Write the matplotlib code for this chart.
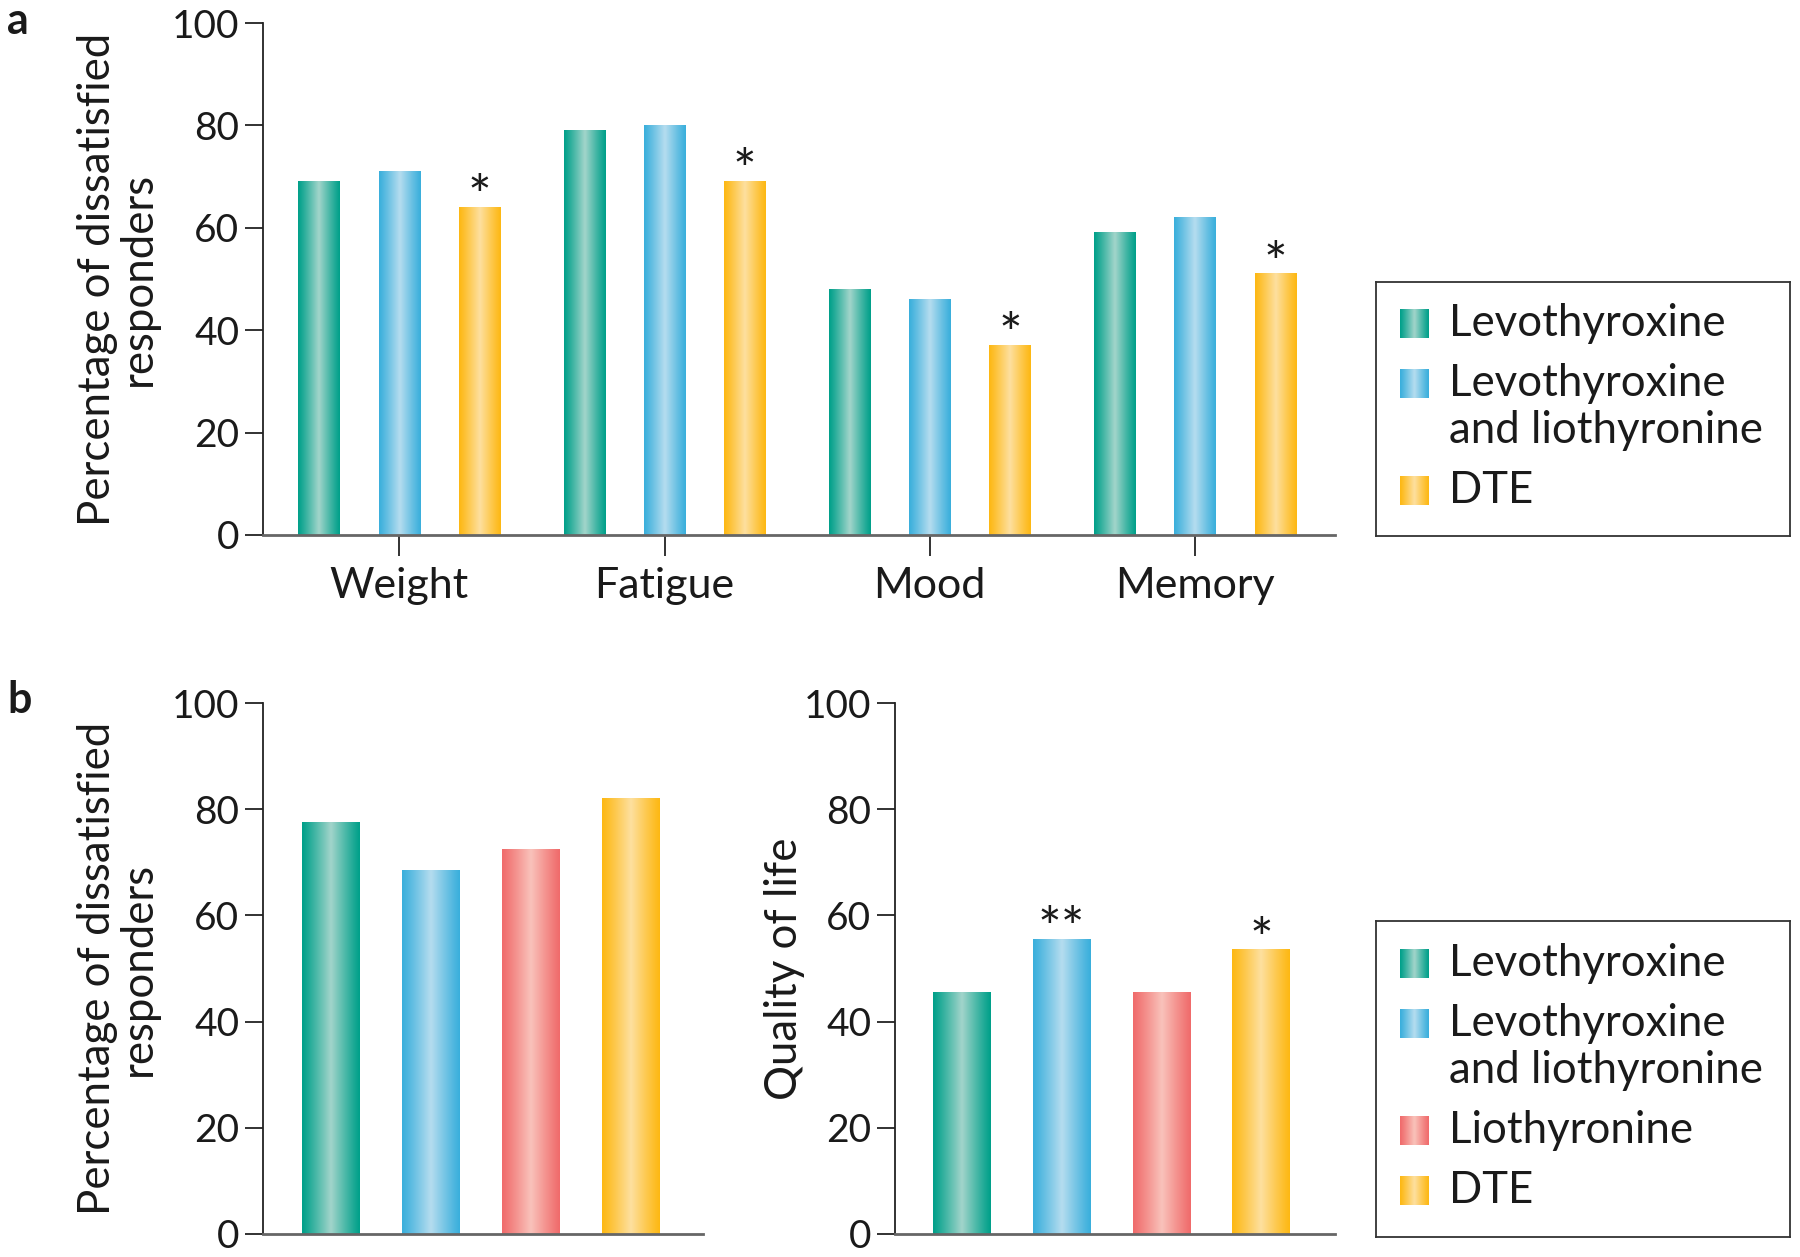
import numpy as np
import matplotlib
matplotlib.use("Agg")
import matplotlib.pyplot as plt
from matplotlib.colors import to_rgb

plt.rcParams['font.family'] = ['Lato', 'DejaVu Sans']

# data
cats_a = ['Weight', 'Fatigue', 'Mood', 'Memory']
levo_a = [69, 79, 48, 59]
combo_a = [71, 80, 46, 62]
dte_a = [64, 69, 37, 51]
stars_a = ['*', '*', '*', '*']  # on DTE bars

dissat_b = [77.5, 68.5, 72.5, 82]
qol_b = [45.5, 55.5, 45.5, 53.5]
qol_stars = ['', '**', '', '*']

names_a = ['Levothyroxine', 'Levothyroxine\nand liothyronine', 'DTE']
names_b = ['Levothyroxine', 'Levothyroxine\nand liothyronine', 'Liothyronine', 'DTE']

# dark edge colour, light centre colour
teal = ('#00a08a', '#a3d5cb')
blue = ('#3aafdc', '#b6ddef')
red = ('#f06b6b', '#f9c3bb')
gold = ('#fdb813', '#fee0a0')

TXT = '#1a1a1a'
STAR = 40


def grad(cols, n=80):
    d = np.array(to_rgb(cols[0]))
    l = np.array(to_rgb(cols[1]))
    t = np.linspace(0, 1, n)
    f = (1 - np.abs(2 * t - 1)) ** 1.1
    c = d[None, :] * (1 - f[:, None]) + l[None, :] * f[:, None]
    return c[None, :, :]


def gbars(ax, x, vals, width, cols):
    bars = ax.bar(x, vals, width, color='none', linewidth=0)
    img = grad(cols)
    for p in bars.patches:
        x0, y0 = p.get_x(), p.get_y()
        ax.imshow(img, extent=[x0, x0 + p.get_width(), y0, y0 + p.get_height()],
                  aspect='auto', interpolation='bicubic', zorder=2)
    return bars


def style(ax):
    ax.spines['top'].set_visible(False)
    ax.spines['right'].set_visible(False)
    ax.spines['left'].set_color('#222222')
    ax.spines['left'].set_linewidth(1.3)
    ax.spines['bottom'].set_color('#666666')
    ax.spines['bottom'].set_linewidth(2)
    ax.set_ylim(0, 100)
    ax.set_yticks([0, 20, 40, 60, 80, 100])
    ax.tick_params(axis='y', length=13, width=1.3, color='#222222',
                   labelsize=28, labelcolor=TXT, pad=4)
    ax.set_aspect('auto')


def legend_box(rect, names, colors):
    lx = fig.add_axes(rect)
    w = rect[2] * 1800
    h = rect[3] * 1257
    lx.set_xticks([])
    lx.set_yticks([])
    for s in lx.spines.values():
        s.set_color('#333333')
        s.set_linewidth(1.3)
    y = 42
    for name, cols in zip(names, colors):
        lx.imshow(grad(cols, 40), extent=[24, 53, y + 14.5, y - 14.5],
                  aspect='auto', interpolation='bicubic')
        for line in name.split('\n'):
            lx.text(73, y, line, fontsize=31.5, color=TXT, va='center')
            y += 47
        y += 13
    lx.set_xlim(0, w)
    lx.set_ylim(h, 0)
    lx.set_aspect('auto')


fig = plt.figure(figsize=(18, 12.57), dpi=100)

# panel a
ax = fig.add_axes([0.146, 0.5744, 0.5956, 0.4073])
xa = np.arange(len(cats_a))
off = 0.303
wa = 0.156
gbars(ax, xa - off, levo_a, wa, teal)
gbars(ax, xa, combo_a, wa, blue)
gbars(ax, xa + off, dte_a, wa, gold)
for xi, v, s in zip(xa + off, dte_a, stars_a):
    ax.text(xi, v - 1.5, s, ha='center', va='baseline', fontsize=STAR, color=TXT)
style(ax)
ax.set_xlim(-0.515, 3.528)
ax.set_xticks(xa)
ax.set_xticklabels(cats_a)
ax.tick_params(axis='x', length=15, width=1.3, color='#222222',
               labelsize=31, labelcolor=TXT, pad=8)
ax.set_ylabel('Percentage of dissatisfied\nresponders', fontsize=31.5,
              color=TXT, linespacing=1.0)
ax.yaxis.set_label_coords(-0.097, 0.5)

# panel b left
xb = np.arange(len(dissat_b))
wb = 0.575
b_cols = [teal, blue, red, gold]
ax1 = fig.add_axes([0.146, 0.0183, 0.2444, 0.4224])
for xi, v, c in zip(xb, dissat_b, b_cols):
    gbars(ax1, [xi], [v], wb, c)
style(ax1)
ax1.set_xlim(-0.68, 3.72)
ax1.set_xticks([])
ax1.set_ylabel('Percentage of dissatisfied\nresponders', fontsize=31.5,
               color=TXT, linespacing=1.0)
ax1.yaxis.set_label_coords(-0.237, 0.5)

# panel b right
ax2 = fig.add_axes([0.4972, 0.0183, 0.2444, 0.4224])
for xi, v, c in zip(xb, qol_b, b_cols):
    gbars(ax2, [xi], [v], wb, c)
for xi, v, s in zip(xb, qol_b, qol_stars):
    if s:
        ax2.text(xi, v - 1.5, s, ha='center', va='baseline', fontsize=STAR, color=TXT)
style(ax2)
ax2.set_xlim(-0.67, 3.74)
ax2.set_xticks([])
ax2.set_ylabel('Quality of life', fontsize=31.5, color=TXT)
ax2.yaxis.set_label_coords(-0.205, 0.5)

legend_box([0.7644, 0.5736, 0.23, 0.2021], names_a, [teal, blue, gold])
legend_box([0.7644, 0.0159, 0.23, 0.2514], names_b, b_cols)

fig.text(0.004, 0.983, 'a', fontsize=31, fontweight='bold', color=TXT, va='center')
fig.text(0.004, 0.443, 'b', fontsize=31, fontweight='bold', color=TXT, va='center')

fig.savefig('out.png', dpi=100)
